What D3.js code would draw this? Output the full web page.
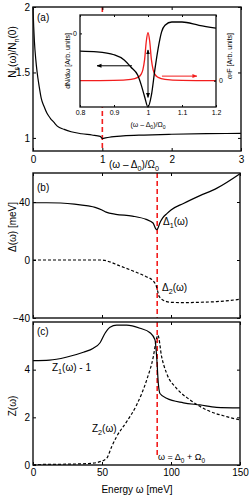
<!DOCTYPE html>
<html>
<head>
<meta charset="utf-8">
<script src="https://cdn.jsdelivr.net/npm/d3@7"></script>
<style>
body { margin: 0; background: #fff; }
svg { display: block; font-family: "Liberation Sans", Arial, sans-serif; }
</style>
</head>
<body>
<svg width="249" height="498"></svg>
<script>
// (a) Ns(w)/Nn(0) against (w - D0)/W0
var dosX = [0, 0.01, 0.02, 0.04, 0.06, 0.09, 0.12, 0.16, 0.2, 0.25, 0.3, 0.35, 0.45, 0.55, 0.7, 0.85, 0.97, 1.0, 1.02, 1.1, 1.3, 1.6, 2.0, 2.5, 3.0];
var dosY = [2.0, 1.85, 1.74, 1.6, 1.5, 1.39, 1.3, 1.24, 1.19, 1.15, 1.12, 1.09, 1.065, 1.047, 1.032, 1.022, 1.012, 0.995, 0.997, 1.005, 1.015, 1.022, 1.028, 1.032, 1.035];
var dosTicksX = [0, 1, 2, 3];
var dosTicksY = [1, 1.5, 2];

// inset: dN/dw (left axis) and a2F (right axis)
var insetX = [0.8, 0.85, 0.9, 0.93, 0.95, 0.97, 0.98, 0.99, 1.0, 1.01, 1.02, 1.03, 1.04, 1.05, 1.07, 1.1, 1.15, 1.2];
var dNdw = [-0.24, -0.25, -0.29, -0.36, -0.46, -0.57, -0.7, -0.86, -1.0, -0.84, -0.5, -0.2, 0.02, 0.11, 0.155, 0.155, 0.11, 0.07];
var a2fX = [0.8, 0.9, 0.95, 0.97, 0.98, 0.985, 0.99, 0.995, 1.0, 1.005, 1.01, 1.015, 1.02, 1.03, 1.05, 1.1, 1.2];
var a2F = [0, 0.005, 0.02, 0.05, 0.1, 0.17, 0.32, 0.6, 0.73, 0.6, 0.32, 0.17, 0.1, 0.05, 0.02, 0.005, 0];
var insetTicks = [0.8, 0.9, 1, 1.1, 1.2];

// (b) gap function, meV
var gapE1 = [0, 10, 20, 30, 40, 45, 50, 53, 60, 72, 82, 87, 89.5, 90.3, 92, 94, 97, 100, 109, 121, 133, 150];
var delta1 = [39.5, 39.5, 39.3, 38.6, 37.3, 36.3, 34.5, 33, 31.5, 30.3, 28, 25.5, 21, 21.5, 25.7, 29, 32, 34.5, 39, 44.4, 49.4, 59.5];
var gapE2 = [0, 20, 40, 50, 52, 63, 72.5, 82, 87, 89.5, 91.5, 96.8, 100, 109, 120, 133, 150];
var delta2 = [0, 0, 0, 0, -0.3, -4.1, -7.6, -11.5, -14.3, -18.4, -25.3, -28.7, -29.2, -29.4, -29.2, -28.7, -27.1];
var energyTicks = [0, 50, 100, 150];
var deltaTicks = [-40, 0, 40];

// (c) renormalisation function
var zE1 = [0, 12, 24, 36.5, 43.7, 48.6, 52.2, 55.8, 60.6, 67.9, 77.5, 84.8, 88.4, 89.6, 90.8, 92, 96.8, 109, 121, 133, 150];
var z1m1 = [4.38, 4.4, 4.52, 4.73, 4.9, 5.13, 5.53, 5.78, 5.87, 5.87, 5.74, 5.55, 5.25, 4.55, 3.43, 3.0, 2.8, 2.61, 2.52, 2.42, 2.4];
var zE2 = [0, 20, 40, 46, 48.6, 53.4, 57, 60.6, 67.9, 75.1, 82.4, 87.2, 89.6, 90.5, 93.2, 96.8, 104, 113.8, 125.8, 140.3, 150];
var z2 = [0.02, 0.03, 0.06, 0.1, 0.14, 0.28, 0.77, 1.19, 1.82, 2.52, 3.57, 4.55, 5.32, 5.45, 4.55, 3.85, 3.22, 2.73, 2.31, 2.03, 1.89];
var zTicks = [0, 2, 4];

var svg = d3.select("svg");
var RED = "#f21d1d";

var defs = svg.append("defs");
function marker(id, color) {
  defs.append("marker").attr("id", id)
      .attr("viewBox", "0 0 10 10").attr("refX", 9).attr("refY", 5)
      .attr("markerWidth", 5).attr("markerHeight", 5).attr("orient", "auto-start-reverse")
    .append("path").attr("d", "M0,1L10,5L0,9Z").attr("fill", color);
}
marker("headK", "#000");
marker("headR", RED);

// plain numbers, real minus sign
var num = function(d) { return d < 0 ? "\u2212" + Math.abs(d) : String(d); };

// text with one-letter subscripts written as _x
function rich(sel, str, size) {
  var shift = Math.round(size * 0.3), down = false;
  str.split(/(_.)/).forEach(function(p) {
    if (!p) return;
    var t = sel.append("tspan");
    if (p[0] === "_") {
      t.attr("font-size", size * 0.72).attr("dy", shift).text(p[1]);
      down = true;
    } else {
      if (down) t.attr("dy", -shift);
      down = false;
      t.text(p);
    }
  });
  return sel;
}

function label(x, y, str, size, anchor, rot) {
  var t = svg.append("text").attr("font-size", size)
      .attr("text-anchor", anchor || "start");
  if (rot) t.attr("transform", "translate(" + x + "," + y + ") rotate(-90)");
  else t.attr("x", x).attr("y", y);
  return rich(t, str, size);
}

// box with inward ticks on all four sides
function frame(x, y, xt, yt, opt) {
  opt = opt || {};
  var fs = opt.fs || 10, tl = opt.tl || 3;
  var g = svg.append("g");
  var xr = x.range(), yr = y.range();
  g.append("g").attr("transform", "translate(0," + yr[0] + ")")
    .call(d3.axisBottom(x).tickValues(xt).tickSizeInner(-tl).tickSizeOuter(0)
      .tickPadding(opt.xpad || 4).tickFormat(opt.xlab ? num : ""));
  g.append("g").attr("transform", "translate(0," + yr[1] + ")")
    .call(d3.axisTop(x).tickValues(xt).tickSizeInner(-tl).tickSizeOuter(0).tickFormat(""));
  g.append("g").attr("transform", "translate(" + xr[0] + ",0)")
    .call(d3.axisLeft(y).tickValues(yt).tickSizeInner(-tl).tickSizeOuter(0)
      .tickPadding(3).tickFormat(num));
  var yr2 = opt.y2 || y, yt2 = opt.yt2 || yt;
  g.append("g").attr("transform", "translate(" + xr[1] + ",0)")
    .call(d3.axisRight(yr2).tickValues(yt2).tickSizeInner(-tl).tickSizeOuter(0)
      .tickPadding(3).tickFormat(opt.y2lab ? num : ""));
  g.selectAll(".domain").remove();
  g.selectAll("text").attr("font-size", fs).attr("font-family", null).attr("fill", "#000");
  g.selectAll(".tick line").attr("stroke", "#000");
  g.append("rect").attr("x", xr[0]).attr("y", yr[1])
      .attr("width", xr[1] - xr[0]).attr("height", yr[0] - yr[1])
      .attr("fill", "none").attr("stroke", "#111").attr("stroke-width", opt.sw || 1.4);
  return g;
}

function curve(x, y, xs, ys, color, dash, w) {
  var line = d3.line().x(function(d) { return x(d[0]); }).y(function(d) { return y(d[1]); })
      .curve(d3.curveMonotoneX);
  return svg.append("path").datum(d3.zip(xs, ys)).attr("d", line)
      .attr("fill", "none").attr("stroke", color).attr("stroke-width", w || 1.2)
      .attr("stroke-dasharray", dash || null);
}

function vline(x, y, v, lo, hi) {
  svg.append("line").attr("x1", x(v)).attr("x2", x(v)).attr("y1", y(lo)).attr("y2", y(hi))
      .attr("stroke", RED).attr("stroke-width", 1.6).attr("stroke-dasharray", "5,3");
}

// ---- panel (a)
var xa = d3.scaleLinear().domain([0, 3]).range([33, 241]);
var ya = d3.scaleLinear().domain([0.9, 2]).range([151, 7]);
vline(xa, ya, 1, 2, 0.9);
curve(xa, ya, dosX, dosY, "#000");
frame(xa, ya, dosTicksX, dosTicksY, {xlab: true, xpad: 5});
label(37, 21, "(a)", 10);
label(109, 168, "(\u03c9 \u2013 \u0394_0)/\u03a9_0", 10);
label(16, 52, "N_s(\u03c9)/N_n(0)", 10, "middle", true);

// inset
var xi = d3.scaleLinear().domain([0.8, 1.2]).range([80, 216]);
var yi = d3.scaleLinear().domain([-1, 0.25]).range([107, 15]);
var yi2 = d3.scaleLinear().domain([-0.4, 1]).range([107, 15]);
svg.append("rect").attr("x", xi.range()[0]).attr("y", yi.range()[1])
    .attr("width", xi.range()[1] - xi.range()[0]).attr("height", yi.range()[0] - yi.range()[1])
    .attr("fill", "#fff");
curve(xi, yi2, a2fX, a2F, RED, null, 1.3);
curve(xi, yi, insetX, dNdw, "#000", null, 1.3);
frame(xi, yi, insetTicks, [0], {xlab: true, fs: 7, xpad: 3, y2: yi2, yt2: [0], y2lab: true, tl: 2, sw: 1.3});
// arrows
svg.append("line").attr("x1", xi(1)).attr("x2", xi(1)).attr("y1", yi(-0.87)).attr("y2", yi(-0.225))
    .attr("stroke", "#000").attr("stroke-width", 1)
    .attr("marker-start", "url(#headK)").attr("marker-end", "url(#headK)");
svg.append("line").attr("x1", xi(0.953)).attr("x2", xi(0.85)).attr("y1", yi(-0.44)).attr("y2", yi(-0.44))
    .attr("stroke", "#000").attr("stroke-width", 1).attr("marker-end", "url(#headK)");
svg.append("line").attr("x1", xi(1.041)).attr("x2", xi(1.144)).attr("y1", yi2(0.07)).attr("y2", yi2(0.07))
    .attr("stroke", RED).attr("stroke-width", 1).attr("marker-end", "url(#headR)");
label(148, 127, "(\u03c9 \u2013 \u0394_0)/\u03a9_0", 7, "middle");
label(70, 61, "dN/d\u03c9 [Arb. units]", 7, "middle", true);
label(232, 56, "\u03b1\u00b2F [Arb. units]", 7, "middle", true);

// ---- panel (b)
var xe = d3.scaleLinear().domain([0, 150]).range([33, 240]);
var yb = d3.scaleLinear().domain([-40, 60]).range([318, 173]);
vline(xe, yb, 90, 60, -40);
curve(xe, yb, gapE1, delta1, "#000");
curve(xe, yb, gapE2, delta2, "#000", "3,2");
frame(xe, yb, energyTicks, deltaTicks, {});
label(37, 191, "(b)", 10);
label(163, 225, "\u0394_1(\u03c9)", 10);
label(162, 291, "\u0394_2(\u03c9)", 10);
label(16, 227, "\u0394(\u03c9) [meV]", 10, "middle", true);

// ---- panel (c)
var yc = d3.scaleLinear().domain([0, 6]).range([465, 322]);
vline(xe, yc, 90, 6, 0.3);
curve(xe, yc, zE1, z1m1, "#000");
curve(xe, yc, zE2, z2, "#000", "3,2");
frame(xe, yc, energyTicks, zTicks, {xlab: true});
label(37, 335, "(c)", 10);
label(52, 371, "Z_1(\u03c9) - 1", 10);
label(92, 432, "Z_2(\u03c9)", 10);
label(158, 460, "\u03c9 = \u0394_0 + \u03a9_0", 9);
label(137, 493, "Energy \u03c9 [meV]", 10, "middle");
label(16, 406, "Z(\u03c9)", 10, "middle", true);
</script>
</body>
</html>
